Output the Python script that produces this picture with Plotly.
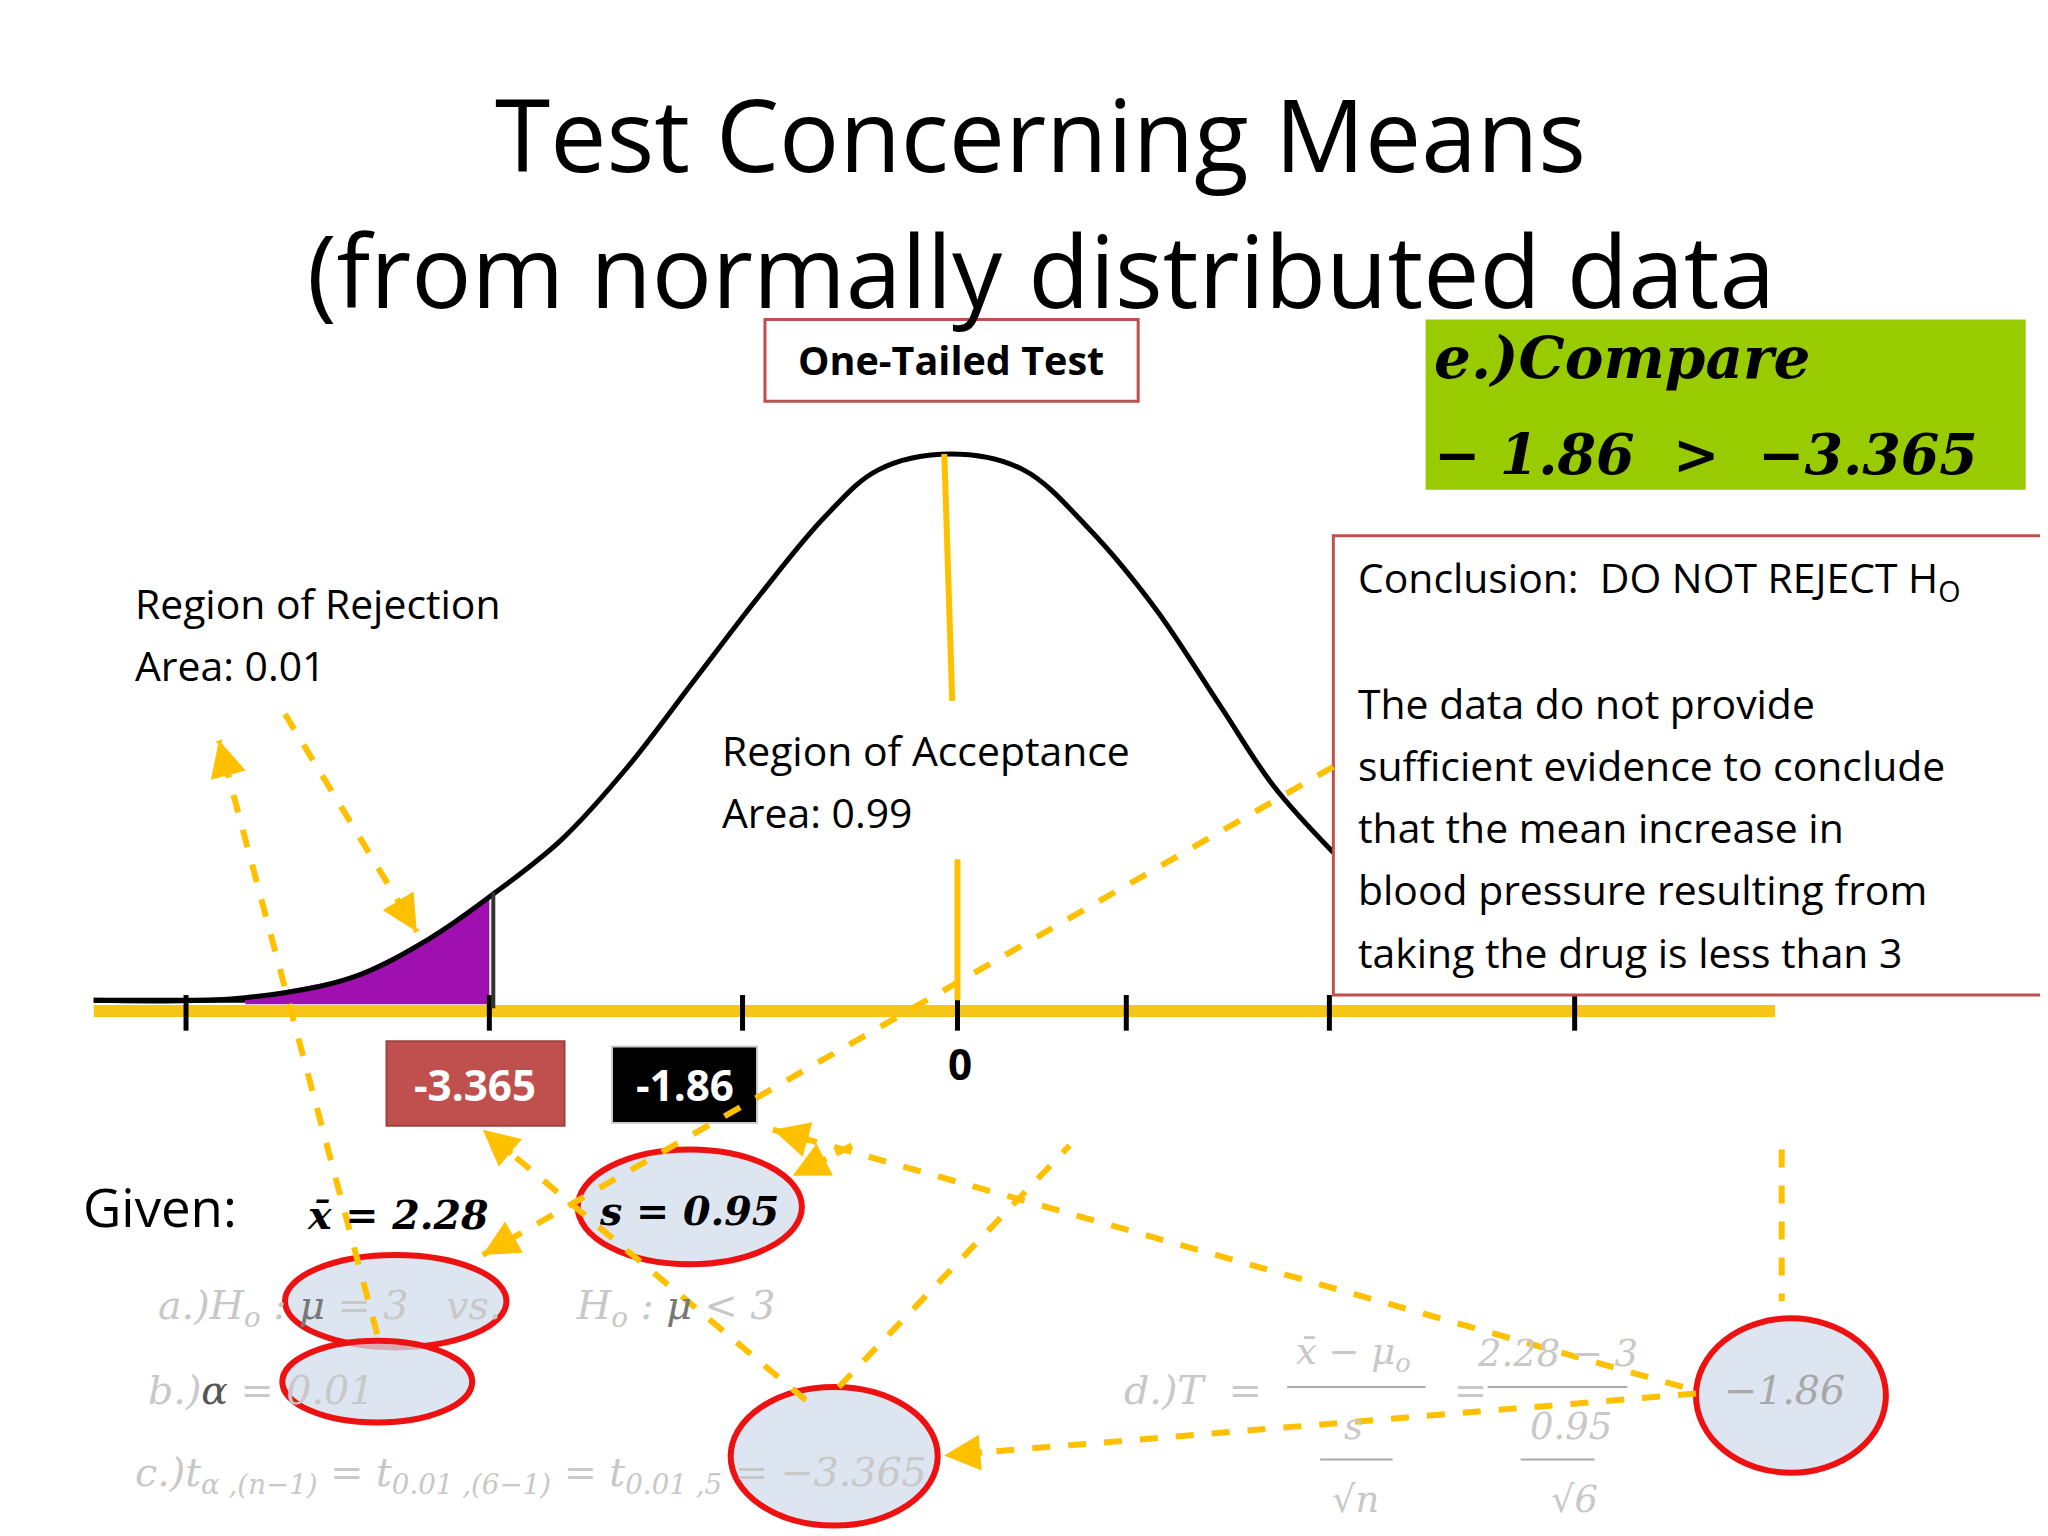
import plotly.graph_objects as go

S = 2048 / 1553
# curve points (reference pixel coords)
curve_x = [65, 180, 260, 320, 370, 420, 470, 520, 570, 620, 660, 715, 770, 820, 870, 920, 960, 1005]
curve_y = [752, 750, 735, 705, 670, 630, 575, 510, 445, 385, 350, 338, 350, 395, 455, 530, 590, 640]
shade_x = [180, 260, 320, 365]
shade_y = [750, 735, 705, 673]
tick_x = [135, 365, 557, 720, 848, 1002, 1188]

YEL = "#FFC000"
RED = "#C0504D"
fig = go.Figure()
fig.add_trace(go.Scatter(x=shade_x + [365, 180], y=shade_y + [755, 755], fill="toself",
                         fillcolor="#A010B0", line=dict(width=0), mode="lines", hoverinfo="skip"))
fig.add_trace(go.Scatter(x=curve_x, y=curve_y, mode="lines", line=dict(color="black", width=5, shape="spline"),
                         hoverinfo="skip"))
fig.add_trace(go.Scatter(x=[65, 1340], y=[760, 760], mode="lines", line=dict(color="#F5C518", width=12)))
fig.add_trace(go.Scatter(x=[65, 180], y=[752, 752], mode="lines", line=dict(color="black", width=5)))
for t in tick_x:
    fig.add_trace(go.Scatter(x=[t, t], y=[748, 775], mode="lines", line=dict(color="black", width=5)))
fig.add_trace(go.Scatter(x=[368, 368], y=[670, 758], mode="lines", line=dict(color="#333", width=4)))
fig.add_trace(go.Scatter(x=[710, 716], y=[338, 525], mode="lines", line=dict(color=YEL, width=6)))
fig.add_trace(go.Scatter(x=[720, 720], y=[645, 752], mode="lines", line=dict(color=YEL, width=6)))

shapes = []
def rect(x0, y0, x1, y1, fill, line, lw=3):
    shapes.append(dict(type="rect", x0=x0, y0=y0, x1=x1, y1=y1, fillcolor=fill,
                       line=dict(color=line, width=lw), layer="above"))
def ell(x0, y0, x1, y1):
    shapes.append(dict(type="circle", x0=x0, y0=y0, x1=x1, y1=y1, fillcolor="rgba(210,220,235,0.75)",
                       line=dict(color="#EE1111", width=6), layer="above"))

ann = []
def txt(x, y, t, size, color="black", fam="Open Sans", xa="left", bold=False, italic=False):
    if bold: t = "<b>" + t + "</b>"
    if italic: t = "<i>" + t + "</i>"
    ann.append(dict(x=x, y=y, text=t, showarrow=False, xanchor=xa, yanchor="middle",
                    font=dict(size=size * S, color=color, family=fam)))

rect(574, 236, 857, 298, "white", RED)
rect(1075, 236, 1530, 365, "#99CC00", "#99CC00", 0)
rect(1005, 400, 1543, 748, "white", RED)
rect(287, 783, 422, 847, RED, "#A04040", 2)
rect(458, 787, 568, 845, "black", "#ccc", 2)

txt(783, 95, "Test Concerning Means", 76, xa="center")
txt(783, 198, "(from normally distributed data", 76, xa="center")
txt(715, 267, "One-Tailed Test", 30, bold=True, xa="center")
txt(1080, 265, "e.)Compare", 44, fam="DejaVu Serif", bold=True, italic=True)
txt(1080, 338, "− 1.86  >  −3.365", 42, fam="DejaVu Serif", bold=True, italic=True)
txt(1022, 433, "Conclusion:  DO NOT REJECT H<sub>O</sub>", 31)
for i, l in enumerate(["The data do not provide", "sufficient evidence to conclude",
                       "that the mean increase in", "blood pressure resulting from",
                       "taking the drug is less than 3"]):
    txt(1022, 527 + 47 * i, l, 31)
txt(95, 451, "Region of Rejection", 31)
txt(95, 498, "Area: 0.01", 31)
txt(540, 562, "Region of Acceptance", 31)
txt(540, 609, "Area: 0.99", 31)
txt(722, 800, "0", 32, bold=True, xa="center")
txt(354, 816, "-3.365", 32, color="white", xa="center", bold=True)
txt(513, 816, "-1.86", 32, color="white", xa="center", bold=True)
txt(55, 908, "Given:", 40)
txt(225, 915, "x̄ = 2.28", 30, fam="DejaVu Serif", bold=True, italic=True)

G = "#C8C8C8"
ell(210, 945, 378, 1015)
ell(208, 1010, 352, 1072)
ell(432, 865, 602, 952)
ell(548, 1045, 705, 1150)
ell(1280, 993, 1424, 1110)
txt(447, 912, "s = 0.95", 30, fam="DejaVu Serif", bold=True, italic=True)
txt(112, 985, "a.)H<sub>o</sub> : <span style='color:#777'>μ</span> = 3   vs.      H<sub>o</sub> : <span style='color:#777'>μ</span> < 3", 30, color=G, fam="DejaVu Serif", italic=True)
txt(105, 1047, "b.)<span style='color:#555'>α</span> = 0.01", 30, color=G, fam="DejaVu Serif", italic=True)
txt(95, 1112, "c.)t<sub>α ,(n−1)</sub> = t<sub>0.01 ,(6−1)</sub> = t<sub>0.01 ,5</sub> = −3.365", 30, color=G, fam="DejaVu Serif", italic=True)
txt(845, 1047, "d.)T  =", 30, color=G, fam="DejaVu Serif", italic=True)
txt(1020, 1020, "x̄ − μ<sub>o</sub>", 28, color=G, fam="DejaVu Serif", italic=True, xa="center")
txt(1020, 1075, "s", 28, color=G, fam="DejaVu Serif", italic=True, xa="center")
txt(1022, 1130, "√n", 28, color=G, fam="DejaVu Serif", italic=True, xa="center")
txt(1095, 1047, "=", 30, color=G, fam="DejaVu Serif")
txt(1175, 1020, "2.28 − 3", 28, color=G, fam="DejaVu Serif", italic=True, xa="center")
txt(1185, 1075, "0.95", 28, color=G, fam="DejaVu Serif", italic=True, xa="center")
txt(1188, 1130, "√6", 28, color=G, fam="DejaVu Serif", italic=True, xa="center")
txt(1300, 1047, "−1.86", 30, color="#A8A8A8", fam="DejaVu Serif", italic=True)
for (a, c) in [(970, 1075), (1122, 1228)]:
    shapes.append(dict(type="line", x0=a, y0=1045, x1=c, y1=1045, line=dict(color="#aaa", width=2)))
    shapes.append(dict(type="line", x0=a + 25, y0=1100, x1=c - 25, y1=1100, line=dict(color="#aaa", width=2)))

arrows = [((210, 535), (310, 700), True), ((280, 1005), (160, 555), True), ((1005, 575), (360, 945), True),
          ((605, 1055), (360, 850), True), ((630, 1045), (805, 862), False), ((1270, 1045), (580, 850), True),
          ((1345, 865), (1345, 980), False), ((1280, 1050), (710, 1097), True), ((640, 862), (595, 885), True)]
for (x0, y0), (x1, y1), head in arrows:
    shapes.append(dict(type="line", x0=x0, y0=y0, x1=x1, y1=y1, layer="above",
                       line=dict(color=YEL, width=6, dash="dash")))
    if head:
        dx, dy = x0 - x1, y0 - y1
        L = (dx * dx + dy * dy) ** 0.5
        ann.append(dict(x=x1, y=y1, ax=x1 + dx / L * 30, ay=y1 + dy / L * 30, axref="x", ayref="y",
                        text="", showarrow=True, arrowhead=2, arrowsize=1.2, arrowwidth=6, arrowcolor=YEL))

fig.update_layout(width=2048, height=1536, margin=dict(l=0, r=0, t=0, b=0), showlegend=False,
                  plot_bgcolor="white", paper_bgcolor="white", shapes=shapes, annotations=ann,
                  xaxis=dict(range=[0, 1553], visible=False, fixedrange=True),
                  yaxis=dict(range=[1164, 0], visible=False, fixedrange=True))
fig.write_html("out.html")
